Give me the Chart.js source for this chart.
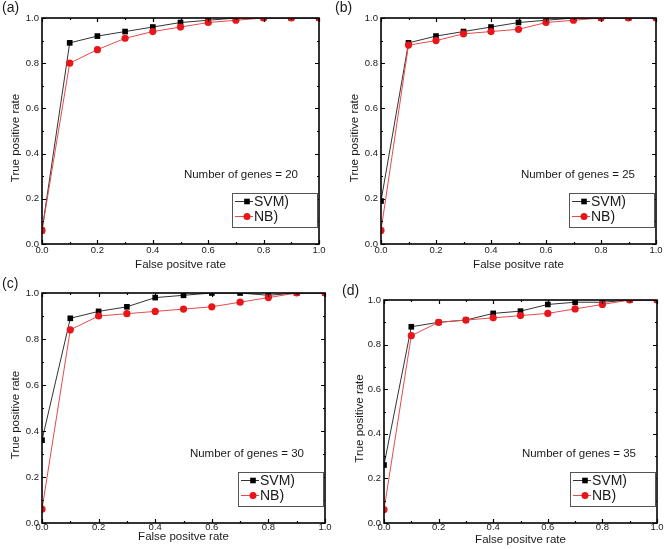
<!DOCTYPE html>
<html>
<head>
<meta charset="utf-8">
<script src="https://cdn.jsdelivr.net/npm/chart.js@4.4.1/dist/chart.umd.min.js"></script>
<style>
  html, body { margin: 0; padding: 0; background: #fff; }
  #wrap { position: relative; width: 664px; height: 549px; overflow: hidden; }
  #wrap canvas { position: absolute; }
</style>
</head>
<body>
<div id="wrap">
  <canvas id="cA" width="332" height="275" style="left:0;top:0"></canvas>
  <canvas id="cB" width="332" height="275" style="left:332px;top:0"></canvas>
  <canvas id="cC" width="332" height="274" style="left:0;top:275px"></canvas>
  <canvas id="cD" width="332" height="274" style="left:332px;top:275px"></canvas>
</div>
<script>
  // false positive rate (x) shared by every panel
  const fpr = [0, 0.1, 0.2, 0.3, 0.4, 0.5, 0.6, 0.7, 0.8, 0.9, 1.0];

  // true positive rates
  const svmA = [0.06, 0.89, 0.92, 0.94, 0.96, 0.98, 0.99, 1.0, 1.0, 1.0, 1.0];
  const nbA  = [0.06, 0.80, 0.86, 0.91, 0.94, 0.96, 0.98, 0.99, 1.0, 1.0, 1.0];
  const svmB = [0.19, 0.89, 0.92, 0.94, 0.96, 0.98, 0.99, 1.0, 1.0, 1.0, 1.0];
  const nbB  = [0.06, 0.88, 0.90, 0.93, 0.94, 0.95, 0.98, 0.99, 1.0, 1.0, 1.0];
  const svmC = [0.36, 0.89, 0.92, 0.94, 0.98, 0.99, 1.0, 1.0, 0.99, 1.0, 1.0];
  const nbC  = [0.06, 0.84, 0.90, 0.91, 0.92, 0.93, 0.94, 0.96, 0.98, 1.0, 1.0];
  const svmD = [0.26, 0.88, 0.90, 0.91, 0.94, 0.95, 0.98, 0.99, 0.99, 1.0, 1.0];
  const nbD  = [0.06, 0.84, 0.90, 0.91, 0.92, 0.93, 0.94, 0.96, 0.98, 1.0, 1.0];

  const genes = [20, 25, 30, 35];
  const panelLabels = ['(a)', '(b)', '(c)', '(d)'];
  const seriesNames = ['SVM)', 'NB)'];
  const xTitle = 'False positve rate';
  const yTitle = 'True positive rate';

  const svmAll = [svmA, svmB, svmC, svmD];
  const nbAll = [nbA, nbB, nbC, nbD];

  // layout of each panel inside its canvas (plot box edges, label spots)
  const panels = [
    { id: 'cA', L: 42, R: 319, T: 18, B: 244, yTitleX: 16, xTitlePad: 3, xTickPad: 1, labX: 2, labY: 8 },
    { id: 'cB', L: 49, R: 324, T: 18, B: 244, yTitleX: 23, xTitlePad: 3, xTickPad: 1, labX: 3, labY: 8 },
    { id: 'cC', L: 42, R: 325, T: 18, B: 248, yTitleX: 16, xTitlePad: 5, xTickPad: -1, labX: 2, labY: 9 },
    { id: 'cD', L: 52, R: 325, T: 25, B: 248, yTitleX: 28, xTitlePad: 2, xTickPad: -1, labX: 10, labY: 16 }
  ];

  const FONT = "'Liberation Sans', Arial, sans-serif";
  const TXT = '#1a1a1a';
  const RED = '#e8161b';

  const figPlugin = {
    id: 'figDecor',
    afterDraw(chart, args, opts) {
      const { ctx, chartArea: a, scales: { x, y } } = chart;
      ctx.save();

      // inward ticks on all four sides
      ctx.strokeStyle = '#000';
      ctx.lineWidth = 1.2;
      ctx.beginPath();
      for (let i = 0; i <= 10; i++) {
        const v = i / 10;
        const len = i % 2 === 0 ? 4 : 2;
        const px = Math.round(x.getPixelForValue(v)) + 0.5;
        const py = Math.round(y.getPixelForValue(v)) + 0.5;
        ctx.moveTo(px, a.bottom); ctx.lineTo(px, a.bottom - len);
        ctx.moveTo(px, a.top); ctx.lineTo(px, a.top + len);
        ctx.moveTo(a.left, py); ctx.lineTo(a.left + len, py);
        ctx.moveTo(a.right, py); ctx.lineTo(a.right - len, py);
      }
      ctx.stroke();

      // frame
      ctx.lineWidth = 1.6;
      ctx.strokeRect(a.left, a.top, a.right - a.left, a.bottom - a.top);

      // y title
      ctx.fillStyle = TXT;
      ctx.font = '11.5px ' + FONT;
      ctx.textAlign = 'center';
      ctx.textBaseline = 'middle';
      ctx.save();
      ctx.translate(opts.yTitleX, (a.top + a.bottom) / 2 + 7);
      ctx.rotate(-Math.PI / 2);
      ctx.fillText(yTitle, 0, 0);
      ctx.restore();

      // panel letter
      ctx.font = '14px ' + FONT;
      ctx.textAlign = 'left';
      ctx.fillText(opts.label, opts.labX, opts.labY);

      // note
      ctx.font = '11.5px ' + FONT;
      ctx.textAlign = 'right';
      ctx.fillText('Number of genes = ' + opts.genes, a.right - 21, a.bottom - 69);

      // legend box
      const bw = 85, bh = 34;
      const bx = a.right - 2 - bw, by = a.bottom - 17 - bh;
      ctx.fillStyle = '#fff';
      ctx.fillRect(bx, by, bw, bh);
      ctx.strokeStyle = '#555';
      ctx.lineWidth = 1;
      ctx.strokeRect(bx + 0.5, by + 0.5, bw, bh);

      chart.data.datasets.forEach((ds, k) => {
        const ry = by + 8.5 + k * 15;
        ctx.strokeStyle = ds.borderColor;
        ctx.lineWidth = 1;
        ctx.beginPath();
        ctx.moveTo(bx + 3, ry); ctx.lineTo(bx + 21, ry);
        ctx.stroke();
        ctx.fillStyle = ds.pointBackgroundColor;
        if (ds.pointStyle === 'rect') {
          ctx.fillRect(bx + 15 - 2.8, ry - 2.8, 5.6, 5.6);
        } else {
          ctx.beginPath();
          ctx.arc(bx + 15, ry, 3.5, 0, Math.PI * 2);
          ctx.fill();
        }
        ctx.fillStyle = TXT;
        ctx.font = '14px ' + FONT;
        ctx.textAlign = 'left';
        ctx.fillText(ds.label, bx + 22, ry + 0.5);
      });

      ctx.restore();
    }
  };

  panels.forEach((p, i) => {
    const cv = document.getElementById(p.id);
    const W = cv.width, H = cv.height;
    new Chart(cv, {
      type: 'scatter',
      data: {
        datasets: [
          {
            label: seriesNames[0],
            data: fpr.map((v, k) => ({ x: v, y: svmAll[i][k] })),
            showLine: true,
            borderColor: '#333',
            borderWidth: 1,
            pointStyle: 'rect',
            pointRadius: 4,
            pointBackgroundColor: '#000',
            pointBorderColor: '#000',
            pointBorderWidth: 0,
            order: 2
          },
          {
            label: seriesNames[1],
            data: fpr.map((v, k) => ({ x: v, y: nbAll[i][k] })),
            showLine: true,
            borderColor: '#e84a4a',
            borderWidth: 1,
            pointStyle: 'circle',
            pointRadius: 3.6,
            pointBackgroundColor: RED,
            pointBorderColor: RED,
            pointBorderWidth: 0,
            order: 1
          }
        ]
      },
      options: {
        responsive: false,
        animation: false,
        events: [],
        layout: { padding: { left: 0, top: p.T, right: W - p.R, bottom: 0 } },
        plugins: {
          legend: { display: false },
          tooltip: { enabled: false },
          figDecor: { label: panelLabels[i], genes: genes[i], yTitleX: p.yTitleX, labX: p.labX, labY: p.labY }
        },
        scales: {
          x: {
            type: 'linear', min: 0, max: 1,
            grid: { display: false, drawTicks: false },
            border: { display: false },
            ticks: { stepSize: 0.2, padding: p.xTickPad, color: TXT, font: { family: FONT, size: 9.5 }, maxRotation: 0,
                      callback: v => v.toFixed(1) },
            title: { display: true, text: xTitle, color: TXT, font: { family: FONT, size: 11.5 }, padding: { top: 0, bottom: p.xTitlePad } },
            afterFit: s => { s.height = H - p.B; }
          },
          y: {
            type: 'linear', min: 0, max: 1,
            grid: { display: false, drawTicks: false },
            border: { display: false },
            ticks: { stepSize: 0.2, padding: 3, color: TXT, font: { family: FONT, size: 9.5 },
                     callback: v => v.toFixed(1) },
            afterFit: s => { s.width = p.L; }
          }
        }
      },
      plugins: [figPlugin]
    });
  });
</script>
</body>
</html>
